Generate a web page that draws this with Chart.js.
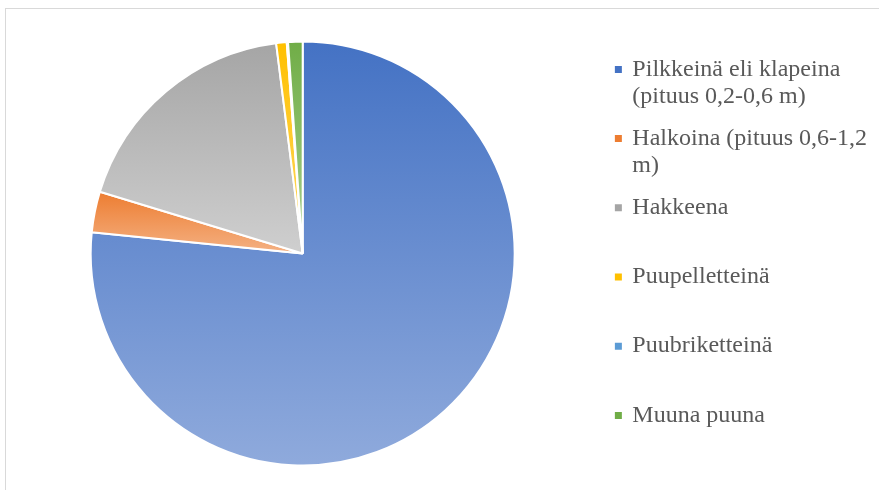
<!DOCTYPE html>
<html>
<head>
<meta charset="utf-8">
<script src="https://cdn.jsdelivr.net/npm/chart.js@4.4.1/dist/chart.umd.min.js"></script>
<style>
    html, body { margin: 0; padding: 0; background: #fff; overflow: hidden; }
    #frame { position: absolute; left: 5px; top: 8px; width: 900px; height: 500px; border: 1.5px solid #d9d9d9; }
    #wrap { position: absolute; left: 0; top: 0; width: 877px; height: 490px; }
</style>
</head>
<body>
<div id="frame"></div>
<div id="wrap"><canvas id="pieChart"></canvas></div>
<script>
// Categories (legend text split into lines as in the original)
const categories = [
    ['Pilkkeinä eli klapeina', '(pituus 0,2-0,6 m)'],
    ['Halkoina (pituus 0,6-1,2', 'm)'],
    ['Hakkeena', ''],
    ['Puupelletteinä', ''],
    ['Puubriketteinä', ''],
    ['Muuna puuna', '']
];
// Share of each slice (%)
const shares = [76.6, 3.1, 18.3, 0.8, 0.1, 1.1];

// Colours: top of the gradient and bottom of the gradient
const topColors = ['#4472C4', '#ED7D31', '#A5A5A5', '#FFC000', '#5B9BD5', '#70AD47'];
const bottomColors = ['#8FAADC', '#F4B183', '#CFCFCF', '#FFD966', '#9DC3E6', '#A9D18E'];

const RADIUS = 212;

// Function to build a vertical gradient over one slice
function sliceFill(context) {
    const chart = context.chart;
    const i = context.dataIndex;
    const area = chart.chartArea;
    if (!area || i === undefined) return topColors[i] || topColors[0];
    const cx = (area.left + area.right) / 2;
    const cy = (area.top + area.bottom) / 2;
    const total = shares.reduce((a, b) => a + b, 0);
    let cum = 0;
    for (let k = 0; k < i; k++) cum += shares[k];
    const start = -Math.PI / 2 + 2 * Math.PI * cum / total;
    const end = start + 2 * Math.PI * shares[i] / total;
    let top = cy, bottom = cy;
    [start, end].forEach((a) => {
        const py = cy + RADIUS * Math.sin(a);
        top = Math.min(top, py);
        bottom = Math.max(bottom, py);
    });
    [-Math.PI / 2, 3 * Math.PI / 2].forEach((a) => {
        if (a >= start && a <= end) top = cy - RADIUS;
    });
    if (Math.PI / 2 >= start && Math.PI / 2 <= end) bottom = cy + RADIUS;
    if (bottom - top < 1) bottom = top + 1;
    const g = chart.ctx.createLinearGradient(0, top, 0, bottom);
    g.addColorStop(0, topColors[i]);
    g.addColorStop(1, bottomColors[i]);
    return g;
}

let ctx = document.getElementById('pieChart').getContext('2d');
let pieChart = new Chart(ctx, {
    type: 'pie',
    data: {
        labels: categories,
        datasets: [{
            data: shares,
            backgroundColor: sliceFill,
            borderColor: '#ffffff',
            borderWidth: 2
        }]
    },
    options: {
        responsive: true,
        maintainAspectRatio: false,
        animation: false,
        radius: RADIUS,
        layout: {
            padding: { left: 3, top: 17, right: 0, bottom: 0 }
        },
        plugins: {
            tooltip: { enabled: false },
            legend: {
                position: 'right',
                // empty title only nudges the entries down a little
                title: { display: true, text: '', padding: 0, font: { size: 9, lineHeight: 1 } },
                labels: {
                    usePointStyle: true,
                    boxWidth: 4,
                    boxHeight: 7,
                    padding: 14,
                    color: '#595959',
                    font: { family: '"Liberation Serif", "Times New Roman", serif', size: 24, lineHeight: 1.15 },
                    generateLabels: () => categories.map((c, i) => ({
                        text: c,
                        fillStyle: topColors[i],
                        strokeStyle: topColors[i],
                        lineWidth: 0,
                        pointStyle: 'rect',
                        fontColor: '#595959',
                        hidden: false,
                        index: i
                    }))
                }
            }
        }
    }
});
</script>
</body>
</html>
